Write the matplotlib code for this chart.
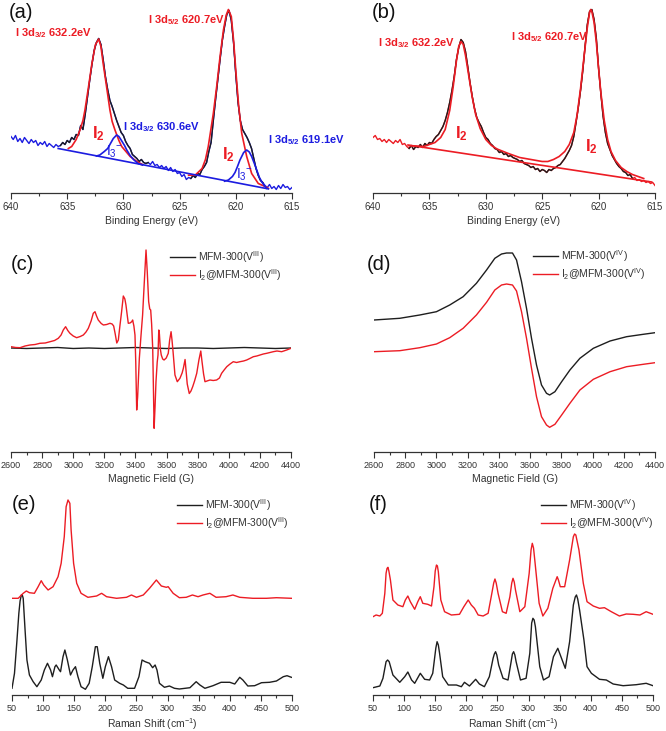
import numpy as np
import matplotlib
matplotlib.use("Agg")
import matplotlib.pyplot as plt
from matplotlib.lines import Line2D
from matplotlib.ticker import MultipleLocator

plt.rcParams["font.family"] = ["Liberation Sans", "DejaVu Sans"]
plt.rcParams["mathtext.fontset"] = "custom"
plt.rcParams["mathtext.rm"] = "Liberation Sans"
plt.rcParams["mathtext.it"] = "Liberation Sans:italic"
plt.rcParams["mathtext.bf"] = "Liberation Sans:bold"

RED = "#ec1c24"
BLUE = "#1c1ce0"
BLACK = "#1e1e1e"
GREY = "#333333"

# ---------------- (a) XPS, I2 + I3- ----------------
# raw spectrum, 640 -> 615 eV in 0.2 eV steps (a.u.)
a_counts = [56, 53, 57, 51, 54, 50, 55, 52, 49, 53, 50, 52, 47, 50, 48, 51, 46, 49, 47, 45, 48, 46,
            47, 50, 48, 52, 50, 55, 53, 58, 57, 67, 63, 78, 95, 112, 128, 142, 150, 154,
            148, 133, 116, 103, 92, 86, 79, 72, 66, 60, 57, 51, 47, 44, 38, 36, 34, 31, 33, 30,
            29, 30,
            28, 31, 27, 28, 25, 27, 24, 26, 22, 25, 21, 23, 19, 20, 16, 18, 13, 15,
            14, 17, 15, 19, 18, 23, 26, 30, 41, 50, 72, 93, 113, 133, 152, 166, 178, 182, 172,
            150, 118, 90, 72, 63, 59, 55, 50, 44, 34, 24, 17, 12, 10,
            7, 5, 8, 4, 6, 3, 7, 4, 8, 5, 6, 3, 5]
a_i2_ev = [634.9, 634.6, 634.2, 633.86, 633.6, 633.42, 633.1, 632.8, 632.5, 632.2, 632.0, 631.8,
           631.5, 631.2, 631.0, 630.75, 630.4, 630.15, 629.4, 628.8, 628.3,
           624.2, 623.6, 623.0, 622.7, 622.45, 622.0, 621.7, 621.4, 621.1, 620.85, 620.66, 620.4,
           620.2, 619.98, 619.74, 619.47, 619.03, 618.59, 618.0, 617.4, 617.1]
a_i2_int = [44, 46, 53, 62.5, 72, 82.5, 106, 129, 147.5, 153.5, 146, 129,
            106, 82.5, 71, 62.5, 52, 46, 36, 31, 28,
            17.3, 17.5, 24, 33, 46, 79, 106, 136, 162.5, 177.5, 183, 176,
            152.5, 119, 86, 59, 36, 19, 9, 6, 4.2]
a_i3_ev = [632.4, 632.1, 631.7, 631.4, 631.1, 630.9, 630.6, 630.4, 630.2, 629.9, 629.7, 629.4,
           629.1, 628.7, 628.3,
           621.0, 620.66, 620.3, 620.07, 619.85, 619.63, 619.3, 619.03, 618.8, 618.59, 618.35,
           618.14, 617.9, 617.7, 617.45, 617.25]
a_i3_int = [36.5, 37.5, 41, 44, 50, 54, 57.5, 56, 52.5, 47, 42.5, 37, 33, 29, 27.5,
            11.3, 12.5, 16, 20, 26, 32.5, 40, 42.5, 40.5, 36, 29, 22.5, 15, 11, 6.5, 4.2]
a_base_ev = [635.8, 617.1]
a_base_int = [44, 3.6]

# ---------------- (b) XPS, I2 only ----------------
b_counts = [55, 57, 53, 54, 51, 53, 50, 53, 51, 49, 52, 50, 53, 48, 49, 46, 44, 47, 43, 46,
            45, 48, 45, 49, 47, 50, 49, 53, 56, 58, 62, 66, 72, 80, 90, 102, 116, 133, 145, 153,
            150, 141, 126, 110, 96, 84, 75, 70, 66, 60, 55, 53, 49, 47, 44, 43, 40, 41, 38, 39,
            36, 37, 35, 34, 33, 31, 32, 29, 28, 27, 25, 26, 23, 24, 21, 23, 22, 20, 23, 22,
            24, 25, 27, 28, 31, 34, 38, 42, 47, 56, 70, 85, 102, 122, 146, 168, 181, 183, 173, 154,
            124, 99, 76, 60, 49, 43, 37, 33, 29, 26, 24, 21, 20, 17, 18, 14, 15, 12, 13, 11,
            12, 10, 11, 9, 10, 7]
b_fit_ev = [636.8, 635.5, 634.5, 634.0, 633.6, 633.2, 632.9, 632.6, 632.4, 632.2, 632.0, 631.8,
            631.5, 631.2, 630.9, 630.5, 630.0, 629.5, 629.0, 628.0, 627.0, 626.0, 625.0, 624.5,
            624.0, 623.5, 623.0, 622.6, 622.2, 621.9, 621.6, 621.3, 621.0, 620.8, 620.7, 620.6,
            620.4, 620.2, 620.0, 619.8, 619.5, 619.2, 618.9, 618.5, 618.0, 617.5, 617.0, 616.5,
            616.0]
b_fit_int = [46.8, 46, 50, 55, 63, 82, 105, 132, 146, 151, 148, 137,
             116, 95, 78, 64, 53, 47, 43.5, 39, 35, 33, 31, 31,
             33, 36, 41, 48, 60, 78, 104, 135, 165, 180, 183, 181,
             170, 150, 124, 100, 72, 53, 41, 32, 25, 21, 18, 16, 14]
b_base_ev = [636.9, 615.3]
b_base_int = [47.5, 10.5]

# ---------------- (c) EPR, V(III) ----------------
c_black_field = [2600, 2700, 2800, 2900, 3000, 3100, 3200, 3300, 3400, 3500, 3600, 3700, 3800,
                 3900, 4000, 4100, 4200, 4300, 4400]
c_black_sig = [104, 103.5, 104, 104.5, 103.5, 104, 103.5, 104, 104.5, 104, 103.5, 104, 104,
               103.5, 104, 104.5, 104, 103.5, 104]
c_red_field = [2600, 2630, 2658, 2690, 2722, 2755, 2786, 2820, 2851, 2880, 2904, 2922, 2936, 2951,
               2965, 2979, 3000, 3022, 3045, 3065, 3082, 3097, 3115, 3129, 3140, 3150, 3161, 3180,
               3194, 3215, 3236, 3250, 3260, 3270, 3280, 3290, 3300, 3311, 3322, 3332, 3339, 3347,
               3354, 3365, 3376, 3382, 3390, 3397, 3402, 3408, 3414, 3425, 3435, 3446, 3457, 3468,
               3476, 3485, 3492, 3498, 3504, 3511, 3516, 3520, 3526, 3532, 3540, 3545, 3550, 3554,
               3560, 3566, 3575, 3584, 3598, 3611, 3620, 3629, 3635, 3642, 3654, 3669, 3686, 3700,
               3708, 3719, 3725, 3733, 3746, 3757, 3768, 3780, 3794, 3808, 3820, 3828, 3838, 3847,
               3860, 3879, 3900, 3922, 3940, 3954, 3970, 3987, 4008, 4029, 4050, 4072, 4095, 4115,
               4135, 4158, 4180, 4201, 4222, 4244, 4265, 4286, 4310, 4340, 4372, 4400]
c_red_sig = [105.3, 104.5, 104.3, 106, 107, 107.5, 108.7, 109, 110.3, 111.5, 113.7, 117, 122, 125.3,
             121.5, 118.7, 116, 114.3, 115.5, 117, 120, 123.7, 131, 138.7, 140.3, 136, 132, 128.5,
             127, 127.5, 128.7, 128, 126, 118, 109, 112, 126, 140.3, 156, 153, 147, 137,
             128.7, 129, 130.3, 132, 126, 117, 90, 42, 55, 93.7, 115, 137, 170, 202,
             180, 150.3, 143, 142, 128, 103.7, 60, 23.7, 45, 70.3, 90, 97, 122, 118,
             103, 97, 93, 92, 94, 98.7, 112, 120.3, 112, 100, 77, 70.3, 73.7, 79,
             83.7, 92.5, 82, 68, 58.5, 61, 65.3, 71, 78.7, 92, 101, 90.3, 78, 70.3,
             71, 72, 71.5, 72, 74, 78.7, 82, 85.3, 88, 90.3, 89.5, 90.3, 91, 92,
             93.5, 95.3, 96, 97, 98, 98.7, 99.5, 100.3, 101, 100.3, 102, 103.7]

# ---------------- (d) EPR, V(IV) ----------------
d_field = [2600, 2765, 2893, 3000, 3085, 3171, 3256, 3321, 3374, 3417, 3449, 3487, 3513, 3545,
           3577, 3609, 3641, 3673, 3705, 3725, 3759, 3802, 3855, 3919, 4005, 4112, 4218, 4325, 4400]
d_black_sig = [132, 133.7, 137, 140.3, 147, 155.3, 168.7, 182, 193.7, 198, 199, 199, 192, 170.3,
               143.7, 113.7, 87, 67, 58.7, 57, 60.3, 70.3, 82, 93.7, 103.7, 111, 115.3, 117.7, 119.3]
d_red_sig = [100.3, 101.3, 104.3, 108, 114.3, 123.7, 137, 149.7, 162, 167, 168, 167, 161, 140.3,
             113.7, 83.7, 55.3, 35.3, 27, 24.7, 27.7, 37, 48.7, 62, 72.7, 80.3, 85.3, 87.7, 89.3]

# ---------------- (e) Raman, V(III) ----------------
e_red_shift = [50, 60, 68, 73, 78, 86, 92, 97, 101, 108, 116, 124, 129, 134, 137, 140, 143, 145,
               149, 154, 161, 172, 186, 194, 202, 218, 234, 242, 250, 261, 271, 282, 290, 298,
               301, 309, 319, 330, 340, 349, 357, 368, 378, 394, 405, 416, 437, 459, 475, 499]
e_red_int = [96.7, 96.7, 101.7, 104, 102.3, 101.7, 108.3, 114.3, 110, 105, 108.3, 118.3, 131.7,
             158.3, 188.3, 195, 191.7, 165, 131.7, 111.7, 101.7, 97.7, 99, 101.7, 98.3, 96.7, 97.7,
             100, 97.7, 100, 106.7, 115, 109, 107.7, 108.3, 101.7, 97.3, 97.7, 100, 98.3, 100,
             101.7, 97.7, 98.3, 100, 97.7, 96.7, 96.7, 97.3, 96.7]
e_black_shift = [50, 54, 58, 61, 63, 65, 66.5, 68, 71, 74, 78, 84, 90, 97, 102, 107, 112, 115, 119,
                 121, 126, 128, 132, 135, 139, 144, 148, 152, 156, 161, 168, 174, 179, 184, 187,
                 191, 196, 200, 205, 210, 215, 223, 229, 236, 247, 254, 259, 264, 271, 276, 280,
                 283, 287, 295, 303, 311, 319, 336, 346, 352, 360, 373, 386, 400, 408, 416, 421,
                 429, 440, 451, 464, 475, 486, 492, 499]
e_black_int = [6.7, 21.7, 55, 81.7, 94, 100, 100, 96.7, 65, 35, 20, 13.3, 8.3, 15, 25, 31.7, 25,
               18.3, 28.3, 30, 25, 23.3, 38.3, 45, 35, 20, 25, 28.3, 18.3, 8.3, 5.7, 11.7, 28.3,
               48.3, 48.3, 31.7, 16.7, 28.3, 38.3, 28.3, 15, 11.7, 10, 6.7, 6.7, 18.3, 35, 33.3,
               31.7, 27.3, 30, 25, 11.7, 7.7, 9, 6.7, 6, 7.3, 13.3, 10, 6.7, 9.3, 12.7, 12.7, 11,
               17.7, 15, 9, 9.3, 12.3, 12.7, 14, 18.3, 19.3, 17.7]

# ---------------- (f) Raman, V(IV) ----------------
f_red_shift = [50, 55, 61, 65, 69, 71, 72.5, 74, 75.5, 78, 82, 90, 98, 102, 106, 110, 117, 122,
               126, 130, 138, 144, 148, 150, 152, 153.5, 155, 159, 165, 176, 189, 196, 203, 208,
               213, 219, 227, 235, 240, 244, 246, 248, 251, 258, 264, 270, 273, 275, 277, 279,
               286, 294, 301, 304, 306, 308, 310, 317, 323, 331, 339, 344, 346, 348, 351, 358,
               366, 372, 374, 376, 381, 388, 394, 404, 414, 422, 433, 446, 457, 468, 479, 489, 500]
f_red_int = [78.3, 80, 79, 81.7, 101.7, 121.7, 126.5, 127.7, 124, 115, 95, 90, 88.3, 95, 99, 93.3,
             85.7, 93.3, 98.3, 91.7, 90.7, 89, 108.3, 124, 130, 129, 123.3, 95, 83.3, 80, 80.7,
             88.3, 95, 90, 86.7, 80, 79, 81.7, 98.3, 112, 116, 112, 101.7, 83.3, 81.7, 98.3, 112,
             116.7, 113, 105, 83.3, 88.3, 121.7, 145, 151.7, 147, 135, 91.7, 79, 86.7, 106.7, 115,
             118.3, 115, 108.3, 108.3, 135, 158.3, 161, 160, 145, 111.7, 93.3, 89, 86.7, 87.3,
             83.3, 79, 81, 80.7, 80, 83.3, 80.7]
f_black_shift = [50, 61, 66, 71, 73.5, 76, 82, 93, 101, 106, 112, 117, 126, 133, 141, 146, 151,
                 153, 155, 157, 162, 171, 184, 192, 197, 205, 215, 221, 229, 237, 243, 245, 247,
                 249, 252, 259, 267, 272, 274, 276, 278, 280, 287, 296, 302, 305, 307, 309, 311,
                 318, 324, 333, 340, 347, 353, 359, 366, 372, 375, 377, 379, 382, 389, 394, 401,
                 414, 425, 436, 452, 473, 489, 500]
f_black_int = [7.3, 9, 16.7, 33.3, 35, 33.3, 20, 12.7, 18.3, 23, 15, 11.7, 21.7, 15.7, 15, 21.7, 47,
               53.3, 50, 41.7, 18.3, 10, 10, 8.3, 12.7, 9, 15.7, 11, 8.3, 18.3, 36.7, 41, 43.3, 40,
               30, 16.7, 15, 33.3, 41, 43.3, 40, 33.3, 15, 16.7, 41.7, 72, 76.7, 75, 68.3, 28.3,
               15, 18.3, 38.3, 46.7, 36.7, 26.7, 53.3, 90, 98, 100, 96, 85, 55, 28.3, 21.7, 15.7,
               15, 11, 9.3, 10.3, 11.7, 9.3]

W, H = 666, 731
fig = plt.figure(figsize=(W / 100, H / 100), dpi=100)


def panel(left, right, bottom, top, xlim, major, minor, xlabel, label_off, tick_fs):
    ax = fig.add_axes([left / W, 1 - bottom / H, (right - left) / W, (bottom - top) / H])
    ax.set_xlim(*xlim)
    ax.set_ylim(0, bottom - top)
    for s in ["top", "right", "left"]:
        ax.spines[s].set_visible(False)
    ax.spines["bottom"].set_color(GREY)
    ax.spines["bottom"].set_linewidth(0.9)
    ax.set_yticks([])
    ax.xaxis.set_major_locator(MultipleLocator(major))
    ax.xaxis.set_minor_locator(MultipleLocator(minor))
    ax.ticklabel_format(axis="x", useOffset=False)
    ax.tick_params(axis="x", which="major", direction="out", length=4.5, width=0.8,
                   colors=GREY, labelsize=tick_fs, pad=2)
    ax.tick_params(axis="x", which="minor", direction="out", length=2.5, width=0.8, colors=GREY)
    ax.set_xlabel(xlabel, fontsize=7.5, color=GREY, va="center")
    ax.xaxis.set_label_coords(0.5, -label_off / (bottom - top))
    ax.patch.set_alpha(0)
    return ax


def legend(ax, labels, x_px, y_px):
    handles = [Line2D([], [], color=BLACK, lw=1.0), Line2D([], [], color=RED, lw=1.0)]
    ax.legend(handles, labels, loc="upper left", bbox_to_anchor=(x_px / W, 1 - y_px / H),
              bbox_transform=fig.transFigure, frameon=False, fontsize=7.5, handlelength=2.4,
              handletextpad=0.25, labelspacing=0.2, borderpad=0, borderaxespad=0,
              labelcolor=GREY)


# (a)
ax = panel(11, 292, 192.5, 2, (640, 615), 5, 2.5, "Binding Energy (eV)", 29, 7)
a_ev = np.linspace(640, 615, len(a_counts))
a_y = np.array(a_counts, dtype=float)
a_black = np.where(((a_ev <= 635.7) & (a_ev >= 627.7)) | ((a_ev <= 624.1) & (a_ev >= 617.5)), a_y, np.nan)
ax.plot(a_ev, a_y, color=BLUE, lw=1.0)
ax.plot(a_ev, a_black, color=BLACK, lw=1.0)
ax.plot(a_i2_ev[:21], a_i2_int[:21], color=RED, lw=1.2)
ax.plot(a_i2_ev[21:], a_i2_int[21:], color=RED, lw=1.2)
ax.plot(a_i3_ev[:15], a_i3_int[:15], color=BLUE, lw=1.2)
ax.plot(a_i3_ev[15:], a_i3_int[15:], color=BLUE, lw=1.2)
ax.plot(a_base_ev, a_base_int, color=BLUE, lw=1.2)
kw = dict(fontsize=8, fontweight="bold", va="center", ha="left", clip_on=False)
ax.text(639.64, 159.5, r"I 3d$_{\mathbf{3/2}}$ 632.2eV", color=RED, **kw)
ax.text(627.8, 172.5, r"I 3d$_{\mathbf{5/2}}$ 620.7eV", color=RED, **kw)
ax.text(630.04, 65.5, r"I 3d$_{\mathbf{3/2}}$ 630.6eV", color=BLUE, **kw)
ax.text(617.14, 52.5, r"I 3d$_{\mathbf{5/2}}$ 619.1eV", color=BLUE, **kw)
big = dict(fontsize=12, ha="center", va="center")
ax.text(632.26, 58.5, r"$\mathbf{I_2}$", color=RED, **big)
ax.text(620.7, 37.5, r"$\mathbf{I_2}$", color=RED, **big)
ax.text(630.75, 40.5, r"I$_3$$^{-}$", color=BLUE, fontsize=10, ha="center", va="center")
ax.text(619.2, 17.5, r"I$_3$$^{-}$", color=BLUE, fontsize=10, ha="center", va="center")

# (b)
ax = panel(373, 655, 192.5, 2, (640, 615), 5, 2.5, "Binding Energy (eV)", 29, 7)
b_ev = np.linspace(640, 615, len(b_counts))
b_y = np.array(b_counts, dtype=float)
b_black = np.where((b_ev <= 636.9) & (b_ev >= 617.0), b_y, np.nan)
ax.plot(b_ev, b_y, color=RED, lw=1.0)
ax.plot(b_ev, b_black, color=BLACK, lw=1.0)
ax.plot(b_fit_ev, b_fit_int, color=RED, lw=1.2)
ax.plot(b_base_ev, b_base_int, color=RED, lw=1.2)
ax.text(639.56, 149.5, r"I 3d$_{\mathbf{3/2}}$ 632.2eV", color=RED, **kw)
ax.text(627.77, 155.5, r"I 3d$_{\mathbf{5/2}}$ 620.7eV", color=RED, **kw)
ax.text(632.2, 58.5, r"$\mathbf{I_2}$", color=RED, **big)
ax.text(620.67, 45.5, r"$\mathbf{I_2}$", color=RED, **big)

# (c)
ax = panel(11, 291, 452, 230, (2600, 4400), 200, 100, "Magnetic Field (G)", 27, 6.5)
ax.plot(c_black_field, c_black_sig, color=BLACK, lw=1.0)
ax.plot(c_red_field, c_red_sig, color=RED, lw=1.0)
legend(ax, [r"MFM-300(V$^{\mathrm{III}}$)", r"I$_2$@MFM-300(V$^{\mathrm{III}}$)"], 170, 249)

# (d)
ax = panel(374, 655, 452, 230, (2600, 4400), 200, 100, "Magnetic Field (G)", 27, 6.5)
ax.plot(d_field, d_black_sig, color=BLACK, lw=1.0)
ax.plot(d_field, d_red_sig, color=RED, lw=1.0)
legend(ax, [r"MFM-300(V$^{\mathrm{IV}}$)", r"I$_2$@MFM-300(V$^{\mathrm{IV}}$)"], 533, 248)

# (e)
ax = panel(12, 292, 695, 490, (50, 500), 50, 25, r"Raman Shift (cm$^{-1}$)", 29, 6.5)
ax.plot(e_black_shift, e_black_int, color=BLACK, lw=1.0)
ax.plot(e_red_shift, e_red_int, color=RED, lw=1.0)
legend(ax, [r"MFM-300(V$^{\mathrm{III}}$)", r"I$_2$@MFM-300(V$^{\mathrm{III}}$)"], 177, 497)

# (f)
ax = panel(373, 653, 695, 490, (50, 500), 50, 25, r"Raman Shift (cm$^{-1}$)", 29, 6.5)
ax.plot(f_black_shift, f_black_int, color=BLACK, lw=1.0)
ax.plot(f_red_shift, f_red_int, color=RED, lw=1.0)
legend(ax, [r"MFM-300(V$^{\mathrm{IV}}$)", r"I$_2$@MFM-300(V$^{\mathrm{IV}}$)"], 541, 497)

for lab, x, y in [("(a)", 9, 13), ("(b)", 372, 12), ("(c)", 11, 265),
                  ("(d)", 367, 265), ("(e)", 12, 505), ("(f)", 369, 505)]:
    fig.text(x / W, 1 - y / H, lab, fontsize=14.5, color="#111111", ha="left", va="center")

fig.savefig("out.png", dpi=100)
